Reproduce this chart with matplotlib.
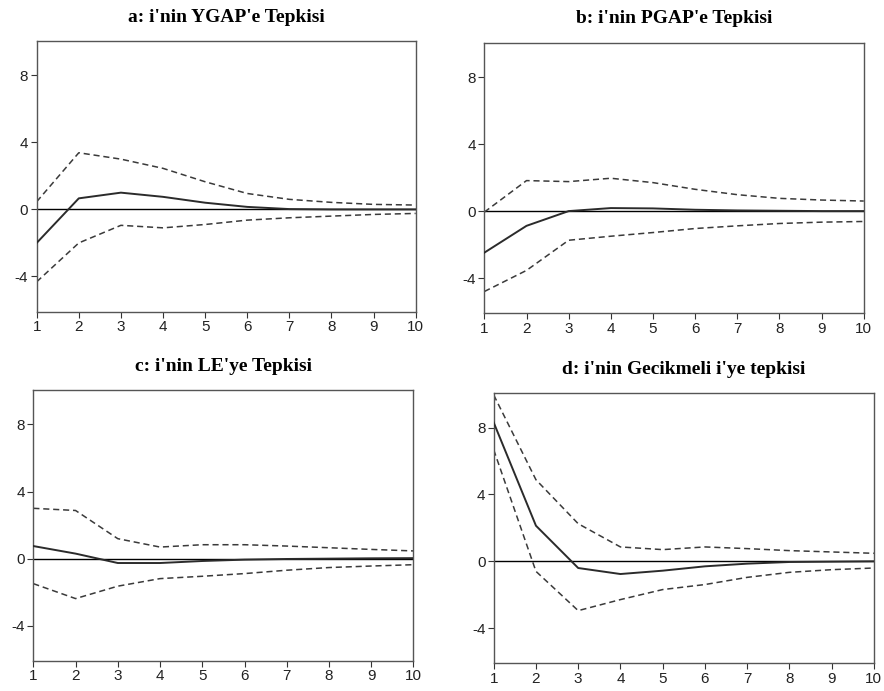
#!/usr/bin/env python3
"""Impulse responses of i (four panels), EViews style."""

import matplotlib

matplotlib.use("Agg")
import matplotlib.pyplot as plt  # noqa: E402

plt.rcParams["axes.unicode_minus"] = False

periods = [1, 2, 3, 4, 5, 6, 7, 8, 9, 10]
yticks = [-4, 0, 4, 8]

titles = [
    "a: i'nin YGAP'e Tepkisi",
    "b: i'nin PGAP'e Tepkisi",
    "c: i'nin LE'ye Tepkisi",
    "d: i'nin Gecikmeli i'ye tepkisi",
]

# a: response to YGAP
resp_a = [-2.0, 0.66, 1.0, 0.75, 0.4, 0.15, 0.02, 0.0, 0.0, 0.0]
upper_a = [0.46, 3.38, 3.0, 2.45, 1.65, 0.95, 0.6, 0.42, 0.3, 0.26]
lower_a = [-4.32, -2.0, -0.95, -1.1, -0.9, -0.64, -0.5, -0.4, -0.3, -0.24]

# b: response to PGAP
resp_b = [-2.48, -0.88, 0.0, 0.18, 0.16, 0.08, 0.04, 0.02, 0.0, 0.0]
upper_b = [-0.06, 1.82, 1.76, 1.96, 1.7, 1.3, 0.98, 0.76, 0.66, 0.6]
lower_b = [-4.8, -3.54, -1.74, -1.5, -1.28, -1.04, -0.88, -0.74, -0.66, -0.62]

# c: response to LE
resp_c = [0.75, 0.3, -0.26, -0.26, -0.14, -0.06, -0.02, 0.0, 0.02, 0.03]
upper_c = [3.0, 2.87, 1.19, 0.69, 0.83, 0.83, 0.75, 0.65, 0.55, 0.46]
lower_c = [-1.49, -2.38, -1.64, -1.19, -1.05, -0.89, -0.69, -0.53, -0.44, -0.36]

# d: response to lagged i
resp_d = [8.3, 2.13, -0.4, -0.76, -0.56, -0.3, -0.14, -0.04, -0.02, 0.0]
upper_d = [9.95, 4.88, 2.25, 0.86, 0.7, 0.86, 0.76, 0.64, 0.56, 0.48]
lower_d = [6.67, -0.6, -2.95, -2.29, -1.69, -1.39, -0.96, -0.66, -0.5, -0.4]

panels = [
    (resp_a, upper_a, lower_a),
    (resp_b, upper_b, lower_b),
    (resp_c, upper_c, lower_c),
    (resp_d, upper_d, lower_d),
]

# axes rectangles (left, bottom, width, height) in figure fraction
rects = [
    (0.0415, 0.549, 0.4287, 0.3917),
    (0.5479, 0.5466, 0.4292, 0.3916),
    (0.0377, 0.0434, 0.4300, 0.3922),
    (0.5585, 0.0401, 0.4300, 0.3907),
]

fig = plt.figure(figsize=(8.84, 6.91), dpi=100)
fig.patch.set_facecolor("white")

for title, (resp, up, lo), rect in zip(titles, panels, rects):
    ax = fig.add_axes(rect)
    ax.axhline(0, color="black", lw=1.0, zorder=1)
    ax.plot(periods, resp, color="#2b2b2b", lw=1.4, zorder=3)
    ax.plot(periods, up, color="#3a3a3a", lw=1.1, ls=(0, (4, 2.5)), zorder=2)
    ax.plot(periods, lo, color="#3a3a3a", lw=1.1, ls=(0, (4, 2.5)), zorder=2)

    ax.set_xlim(1, 10)
    ax.set_ylim(-6.1, 10.05)
    ax.set_xticks(periods)
    ax.set_yticks(yticks)
    ax.tick_params(direction="out", length=4, width=0.8, colors="#333333",
                   labelsize=11, pad=2)
    for lbl in ax.get_xticklabels() + ax.get_yticklabels():
        lbl.set_family("Liberation Sans")
        lbl.set_color("#222222")
    for sp in ax.spines.values():
        sp.set_color("#555555")
        sp.set_linewidth(1.0)

    ax.set_title(title, family="Liberation Serif", fontweight="bold",
                 fontsize=14, pad=14)

fig.savefig("out.png", dpi=100)
